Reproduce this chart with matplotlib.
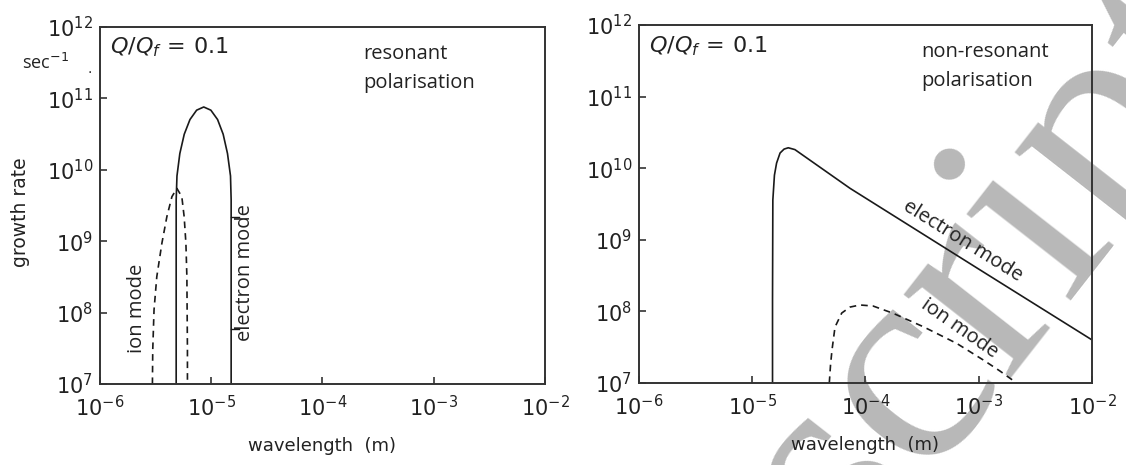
import numpy as np
import matplotlib
matplotlib.use('Agg')
import matplotlib.pyplot as plt

# left panel: resonant polarisation
res_e_wl = [4.84e-6, 4.84e-6, 4.92e-6, 5.22e-6, 5.72e-6, 6.44e-6, 7.39e-6, 8.56e-6,
            9.92e-6, 1.14e-5, 1.28e-5, 1.40e-5, 1.49e-5, 1.51e-5, 1.51e-5]
res_e_gr = [1e7, 3.8e9, 8.2e9, 1.69e10, 3.15e10, 5.06e10, 6.84e10, 7.58e10,
            6.84e10, 5.06e10, 3.15e10, 1.69e10, 8.2e9, 3.8e9, 1e7]
res_i_wl = [2.96e-6, 2.98e-6, 3.06e-6, 3.24e-6, 3.60e-6, 3.99e-6, 4.43e-6, 4.91e-6,
            5.44e-6, 5.71e-6, 5.92e-6, 6.04e-6, 6.11e-6, 6.11e-6]
res_i_gr = [1e7, 2.99e7, 1.09e8, 3.18e8, 9.35e8, 2.2e9, 4.2e9, 5.5e9,
            4.2e9, 2.2e9, 9.35e8, 3.18e8, 2.99e7, 1e7]
# little leader ticks around the "electron mode" label
lead_wl = [1.51e-5, 1.79e-5]
lead_gr = [2.18e9, 5.9e7]

# right panel: non-resonant polarisation
non_e_wl = [1.51e-5, 1.51e-5, 1.52e-5, 1.57e-5, 1.64e-5, 1.76e-5, 1.91e-5, 2.08e-5,
            2.38e-5, 7.3e-5, 1e-3, 1e-2]
non_e_gr = [1e7, 1.44e8, 3.6e9, 8.0e9, 1.18e10, 1.63e10, 1.85e10, 1.93e10,
            1.82e10, 5.24e9, 3.9e8, 4.0e7]
non_i_wl = [4.79e-5, 4.91e-5, 5.06e-5, 5.38e-5, 6.17e-5, 7.30e-5, 8.94e-5, 1.165e-4,
            1.76e-4, 3.24e-4, 6.38e-4, 1.10e-3, 1.54e-3, 2.16e-3]
non_i_gr = [1e7, 1.78e7, 2.89e7, 6.05e7, 9.5e7, 1.15e8, 1.23e8, 1.19e8,
            9.4e7, 6.11e7, 3.58e7, 2.09e7, 1.47e7, 1e7]

xticks = [1e-6, 1e-5, 1e-4, 1e-3, 1e-2]
yticks = [1e7, 1e8, 1e9, 1e10, 1e11, 1e12]

fig = plt.figure(figsize=(11.26, 4.65), dpi=100)

# grey watermark behind everything
fig.text(0.886, 0.432, 'script', rotation=52, fontsize=212, family='Liberation Serif',
         color='#b8b8b8', ha='center', va='center', zorder=-5)

ax1 = fig.add_axes([0.0888, 0.174, 0.3952, 0.768])
ax2 = fig.add_axes([0.5675, 0.1763, 0.4023, 0.7699])

lc = '#1a1a1a'
tc = '#222222'
for ax in (ax1, ax2):
    ax.set_facecolor('none')
    ax.set_xscale('log')
    ax.set_yscale('log')
    ax.set_xlim(1e-6, 1e-2)
    ax.set_ylim(1e7, 1e12)
    ax.set_xticks(xticks)
    ax.set_yticks(yticks)
    ax.minorticks_off()
    ax.tick_params(direction='in', length=5, width=1.2, colors='#333333',
                   labelcolor=tc, labelsize=15)
    ax.tick_params(axis='x', pad=8)
    ax.tick_params(axis='y', pad=5)
    for s in ax.spines.values():
        s.set_color('#333333')
        s.set_linewidth(1.4)
    ax.set_xlabel('wavelength  (m)', fontsize=13, color=tc, labelpad=12)
    ax.text(0.022, 0.975, r'$Q/Q_f\,=\,0.1$', transform=ax.transAxes,
            fontsize=16, va='top', ha='left', color=tc)

ax1.plot(res_e_wl, res_e_gr, '-', color=lc, lw=1.2)
ax1.plot(res_i_wl, res_i_gr, '--', color=lc, lw=1.2, dashes=(4, 3))
for g in lead_gr:
    ax1.plot(lead_wl, [g, g], '-', color=lc, lw=1.0)
ax1.text(2.02e-5, 3.6e8, 'electron mode', rotation=90, ha='center', va='center',
         fontsize=14.5, family='Open Sans', color=tc)
ax1.text(2.15e-6, 1.16e8, 'ion mode', rotation=90, ha='center', va='center',
         fontsize=14.5, family='Open Sans', color=tc)
ax1.text(0.591, 0.952, 'resonant\npolarisation', transform=ax1.transAxes,
         ha='left', va='top', fontsize=14.5, family='Open Sans', color=tc,
         linespacing=1.6)
ax1.set_ylabel('growth rate', fontsize=13.5, color=tc)
ax1.yaxis.set_label_coords(-0.157, 0.48)
fig.text(0.040, 0.865, 'sec$^{-1}$', ha='center', va='center', fontsize=13,
         family='Open Sans', color=tc)
fig.text(0.080, 0.852, '.', ha='center', va='center', fontsize=10, color=tc)

ax2.plot(non_e_wl, non_e_gr, '-', color=lc, lw=1.2)
ax2.plot(non_i_wl, non_i_gr, '--', color=lc, lw=1.2, dashes=(4, 3))
ax2.text(7.26e-4, 9.5e8, 'electron mode', rotation=-32, ha='center', va='center',
         fontsize=14.5, family='Open Sans', color=tc, rotation_mode='anchor')
ax2.text(6.8e-4, 5.8e7, 'ion mode', rotation=-35, ha='center', va='center',
         fontsize=14.5, family='Open Sans', color=tc, rotation_mode='anchor')
ax2.text(0.6225, 0.952, 'non-resonant\npolarisation', transform=ax2.transAxes,
         ha='left', va='top', fontsize=14.5, family='Open Sans', color=tc,
         linespacing=1.6)

fig.savefig('out.png', dpi=100)
